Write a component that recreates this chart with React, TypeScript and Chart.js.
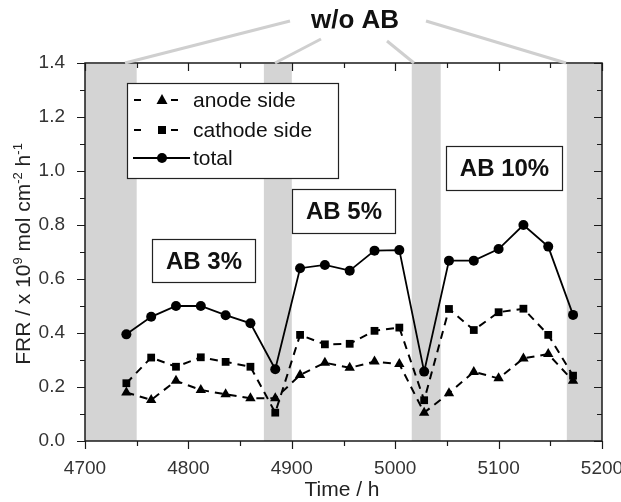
import React, { useEffect, useRef } from "react";
import { Chart, registerables } from "chart.js";

Chart.register(...registerables);

const times = [4740, 4764, 4788, 4812, 4836, 4860, 4884, 4908, 4932, 4956, 4980, 5004, 5028, 5052, 5076, 5100, 5124, 5148, 5172];
const anode = [0.18, 0.152, 0.223, 0.189, 0.173, 0.158, 0.158, 0.244, 0.29, 0.271, 0.294, 0.285, 0.105, 0.177, 0.256, 0.232, 0.306, 0.322, 0.223];
const cathode = [0.214, 0.309, 0.275, 0.31, 0.293, 0.275, 0.105, 0.393, 0.358, 0.36, 0.408, 0.42, 0.151, 0.489, 0.411, 0.477, 0.49, 0.393, 0.242];
const total = [0.395, 0.46, 0.5, 0.5, 0.466, 0.436, 0.266, 0.64, 0.652, 0.631, 0.705, 0.707, 0.257, 0.668, 0.668, 0.711, 0.8, 0.72, 0.467];
const seriesLabels = ["anode side", "cathode side", "total"];
const bands: [number, number][] = [[4700, 4750], [4873, 4900], [5016, 5044], [5166, 5200]];
const xTickValues = [4700, 4800, 4900, 5000, 5100, 5200];
const yTickValues = [0, 0.2, 0.4, 0.6, 0.8, 1.0, 1.2, 1.4];
const boxLabels = ["AB 3%", "AB 5%", "AB 10%"];
const titleText = "w/o AB";

const FONT = '"Liberation Sans", Arial, sans-serif';

const decor = {
  id: "decor",
  beforeDatasetsDraw(chart: any) {
    const { ctx, chartArea: a } = chart;
    const xs = chart.scales.x;
    ctx.save();
    ctx.fillStyle = "#d4d4d4";
    for (const [s, e] of bands) {
      const x0 = xs.getPixelForValue(s);
      const x1 = xs.getPixelForValue(e);
      ctx.fillRect(x0, a.top + 1, x1 - x0, a.bottom - a.top - 1);
    }
    ctx.restore();
  },
  afterDatasetsDraw(chart: any) {
    const { ctx, chartArea: a } = chart;
    const xs = chart.scales.x;
    const ys = chart.scales.y;
    ctx.save();
    // frame
    ctx.strokeStyle = "#1a1a1a";
    ctx.lineWidth = 1.5;
    ctx.strokeRect(a.left, a.top, a.right - a.left, a.bottom - a.top);
    ctx.lineWidth = 1.2;
    for (let v = 4700; v <= 5200; v += 50) {
      const px = Math.round(xs.getPixelForValue(v)) + 0.5;
      const major = v % 100 === 0;
      const L = major ? 8 : 5;
      ctx.beginPath();
      ctx.moveTo(px, a.bottom);
      ctx.lineTo(px, a.bottom + L);
      ctx.moveTo(px, a.top);
      ctx.lineTo(px, a.top + L);
      ctx.stroke();
    }
    for (let i = 0; i <= 14; i++) {
      const py = Math.round(ys.getPixelForValue(i / 10)) + 0.5;
      const major = i % 2 === 0;
      const L = major ? 8 : 5;
      ctx.beginPath();
      ctx.moveTo(a.left, py);
      ctx.lineTo(a.left - L, py);
      ctx.moveTo(a.right, py);
      ctx.lineTo(a.right - L, py);
      ctx.stroke();
    }

    // annotation boxes
    const boxes = [
      { t: boxLabels[0], x: 152, y: 239, w: 103, h: 43 },
      { t: boxLabels[1], x: 292, y: 189, w: 103, h: 44 },
      { t: boxLabels[2], x: 446, y: 146, w: 116, h: 44 },
    ];
    ctx.font = `bold 24px ${FONT}`;
    ctx.textAlign = "center";
    ctx.textBaseline = "middle";
    for (const b of boxes) {
      ctx.fillStyle = "#fff";
      ctx.fillRect(b.x, b.y, b.w, b.h);
      ctx.strokeStyle = "#222";
      ctx.lineWidth = 1.2;
      ctx.strokeRect(b.x + 0.5, b.y + 0.5, b.w, b.h);
      ctx.fillStyle = "#111";
      ctx.fillText(b.t, b.x + b.w / 2 + 0.5, b.y + b.h / 2 + 1.5);
    }

    // legend
    const lx = 127, ly = 83, lw = 211, lh = 95;
    ctx.fillStyle = "#fff";
    ctx.fillRect(lx, ly, lw, lh);
    ctx.strokeStyle = "#222";
    ctx.lineWidth = 1.2;
    ctx.strokeRect(lx + 0.5, ly + 0.5, lw, lh);
    const rows = [100, 130, 158];
    const styles = ["triangle", "rect", "circle"];
    ctx.font = `21px ${FONT}`;
    ctx.textAlign = "left";
    ctx.textBaseline = "middle";
    for (let i = 0; i < 3; i++) {
      const ry = rows[i];
      ctx.strokeStyle = "#000";
      ctx.lineWidth = 2;
      ctx.beginPath();
      if (i < 2) {
        ctx.moveTo(134, ry); ctx.lineTo(141, ry);
        ctx.moveTo(171, ry); ctx.lineTo(178, ry);
      } else {
        ctx.moveTo(133, ry); ctx.lineTo(190, ry);
      }
      ctx.stroke();
      ctx.fillStyle = "#000";
      ctx.beginPath();
      if (styles[i] === "triangle") {
        ctx.moveTo(162, ry - 6); ctx.lineTo(167.5, ry + 4); ctx.lineTo(156.5, ry + 4); ctx.closePath();
      } else if (styles[i] === "rect") {
        ctx.rect(158, ry - 4, 8, 8);
      } else {
        ctx.arc(162, ry, 5, 0, Math.PI * 2);
      }
      ctx.fill();
      ctx.fillStyle = "#111";
      ctx.fillText(seriesLabels[i], 193, ry + 1);
    }

    // title and connectors
    ctx.strokeStyle = "#cfcfcf";
    ctx.lineWidth = 3;
    const conns = [[290, 21, 125, 63], [321, 39, 275, 63], [387, 41, 414, 63], [426, 21, 566, 63]];
    for (const [x0, y0, x1, y1] of conns) {
      ctx.beginPath();
      ctx.moveTo(x0, y0);
      ctx.lineTo(x1, y1);
      ctx.stroke();
    }
    ctx.fillStyle = "#111";
    ctx.font = `bold 26px ${FONT}`;
    ctx.textAlign = "center";
    ctx.textBaseline = "middle";
    ctx.fillText(titleText, 355, 21);

    // x title
    ctx.font = `21px ${FONT}`;
    ctx.fillStyle = "#222";
    ctx.fillText("Time / h", 342, 490);

    // y title with superscripts
    ctx.translate(23, 254);
    ctx.rotate(-Math.PI / 2);
    const parts: [string, boolean][] = [["FRR / x 10", false], ["9", true], [" mol cm", false], ["-2", true], [" h", false], ["-1", true]];
    const big = `21px ${FONT}`;
    const small = `13px ${FONT}`;
    let tw = 0;
    for (const [s, sup] of parts) { ctx.font = sup ? small : big; tw += ctx.measureText(s).width; }
    let cx = -tw / 2;
    ctx.textAlign = "left";
    ctx.textBaseline = "alphabetic";
    for (const [s, sup] of parts) {
      ctx.font = sup ? small : big;
      ctx.fillText(s, cx, sup ? -1 : 7);
      cx += ctx.measureText(s).width;
    }
    ctx.restore();
  },
};

export default function App() {
  const ref = useRef<HTMLCanvasElement | null>(null);
  useEffect(() => {
    document.body.style.margin = "0";
    const ds = (label: string, data: number[], style: string, dashed: boolean, r: number) => ({
      label,
      data: times.map((t, i) => ({ x: t, y: data[i] })),
      borderColor: "#000",
      backgroundColor: "#000",
      borderWidth: dashed ? 2 : 1.8,
      borderDash: dashed ? [8, 6] : [],
      pointStyle: style,
      pointRadius: r,
      pointBorderWidth: 0,
      pointBackgroundColor: "#000",
      tension: 0,
    });
    const chart = new Chart(ref.current as HTMLCanvasElement, {
      type: "line",
      data: {
        datasets: [
          ds(seriesLabels[0], anode, "triangle", true, 6),
          ds(seriesLabels[1], cathode, "rect", true, 5.5),
          ds(seriesLabels[2], total, "circle", false, 5),
        ],
      },
      options: {
        responsive: false,
        animation: false,
        layout: { padding: { top: 63, right: 19, left: 0, bottom: 0 } },
        plugins: { legend: { display: false }, tooltip: { enabled: false } },
        scales: {
          x: {
            type: "linear",
            min: 4700,
            max: 5200,
            afterBuildTicks: (s: any) => { s.ticks = xTickValues.map((v) => ({ value: v })); },
            afterFit: (s: any) => { s.height = 61; s.paddingLeft = 0; s.paddingRight = 0; },
            grid: { display: false },
            border: { display: false },
            ticks: { color: "#333", font: { family: FONT, size: 19 }, padding: 8, maxRotation: 0, callback: (v: any) => String(v) },
          },
          y: {
            min: 0,
            max: 1.4,
            afterBuildTicks: (s: any) => { s.ticks = yTickValues.map((v) => ({ value: v })); },
            afterFit: (s: any) => { s.width = 85; s.paddingTop = 0; s.paddingBottom = 0; },
            grid: { display: false },
            border: { display: false },
            ticks: { color: "#333", font: { family: FONT, size: 19 }, padding: 12, callback: (v: any) => Number(v).toFixed(1) },
          },
        },
      },
      plugins: [decor],
    } as any);
    return () => chart.destroy();
  }, []);
  return <canvas ref={ref} width={621} height={502} style={{ display: "block" }} />;
}
